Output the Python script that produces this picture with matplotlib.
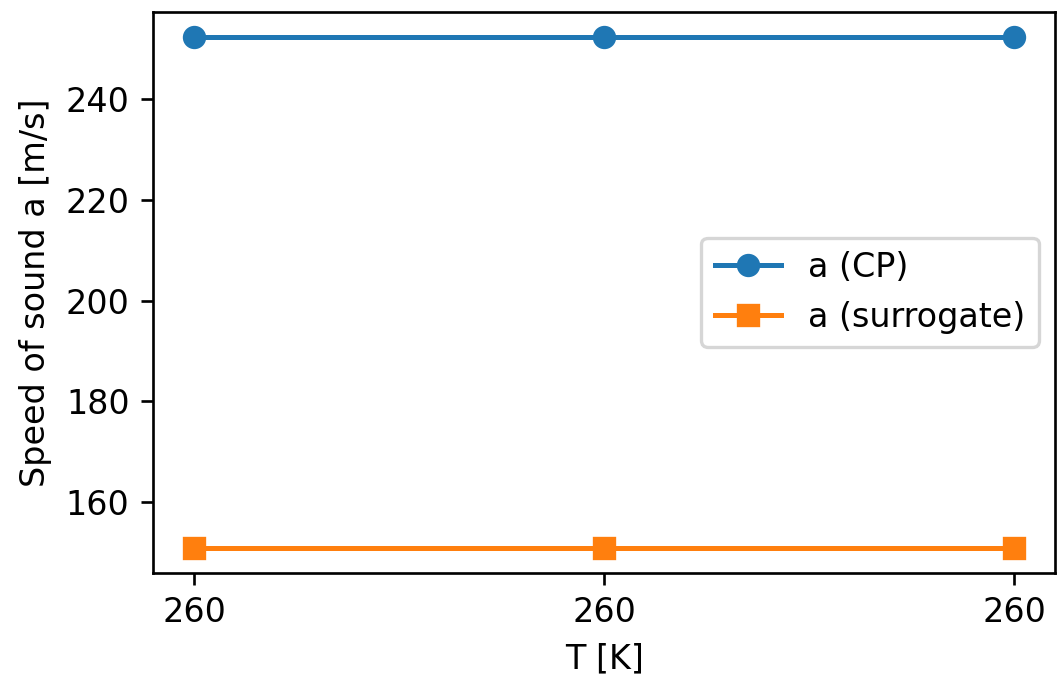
import numpy as np
import matplotlib
matplotlib.use("Agg")
from matplotlib import pyplot as plt

# temperatures (all print as 260 K)
T = [259.99, 260.0, 260.01]
T_labels = ["260", "260", "260"]
a_cp = [252.3, 252.3, 252.3]
a_surrogate = [150.9, 150.9, 150.9]

fig, ax = plt.subplots(figsize=(1057 / 240, 677 / 240), dpi=240)
ax.plot(T, a_cp, marker="o", label="a (CP)")
ax.plot(T, a_surrogate, marker="s", label="a (surrogate)")
ax.set_xticks(T)
ax.set_xticklabels(T_labels)
ax.set_xlabel("T [K]")
ax.set_ylabel("Speed of sound a [m/s]")
ax.legend()
fig.subplots_adjust(left=0.1447, right=0.9985, top=0.9823, bottom=0.1536)
fig.savefig("out.png")
